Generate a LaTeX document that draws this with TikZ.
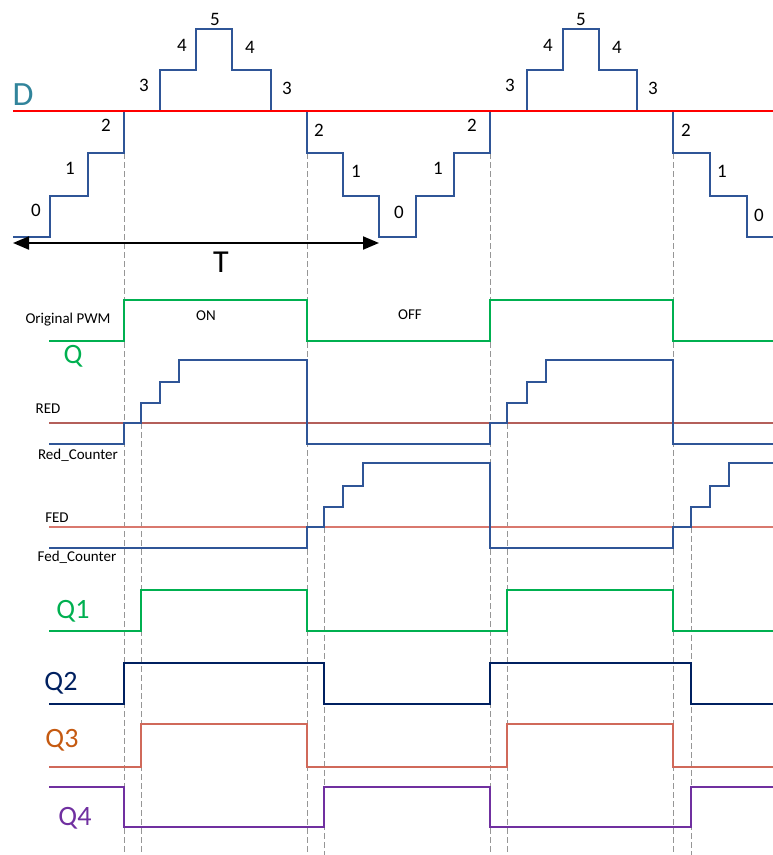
\documentclass[tikz,border=0pt]{standalone}
\usepackage{fontspec}
\setmainfont{Carlito}
\usetikzlibrary{arrows.meta,positioning}

\definecolor{stairblue}{RGB}{47,85,151}
\definecolor{dteal}{RGB}{49,132,155}
\definecolor{pwmgreen}{RGB}{0,176,80}
\definecolor{redline}{RGB}{180,95,90}
\definecolor{fedline}{RGB}{217,120,110}
\definecolor{navy}{RGB}{0,32,96}
\definecolor{qthree}{RGB}{208,105,90}
\definecolor{qthreetxt}{RGB}{197,90,17}
\definecolor{qpurple}{RGB}{112,48,160}
\definecolor{guide}{RGB}{150,150,150}

\begin{document}
\begin{tikzpicture}[x=1pt,y=-1pt,semithick]
	\tikzstyle{level}=[font=\fontsize{19}{22}\selectfont]
	\tikzstyle{small}=[font=\fontsize{15}{18}\selectfont]
	\tikzstyle{big}=[font=\fontsize{28}{32}\selectfont]
	\tikzstyle{wave}=[line width=1.3pt,line join=miter]
	\tikzstyle{guideline}=[guide,line width=1pt,dash pattern=on 6pt off 3pt]

	\useasboundingbox (0,0) rectangle (773,855);

	% dashed guides
	\foreach \x in {124,307,490,673}
		\draw[guideline] (\x,153) -- (\x,855);
	\foreach \x in {141,507}
		\draw[guideline] (\x,423) -- (\x,855);
	\foreach \x in {324,691}
		\draw[guideline] (\x,527) -- (\x,855);

	% counter staircase and D
	\draw[wave,stairblue] (13,237) -| (50,196) -| (88,153) -| (124,111) -| (160,70) -| (196,29)
		-| (232,70) -| (271,111) -| (307,153) -| (343,196) -| (379,237) -| (416,196) -| (454,153)
		-| (490,111) -| (527,70) -| (563,29) -| (599,70) -| (637,111) -| (673,153) -| (710,196)
		-| (747,237) -- (773,237);
	\draw[red,line width=2pt] (13,111) -- (773,111);
	\node[dteal,font=\fontsize{34}{38}\selectfont] (D) at (23,95) {D};

	\foreach \x/\y/\t [count=\i] in {36/210/0,70/168/1,106/125/2,144/85/3,182/45/4,215/19/5,
		250/47/4,287/88/3,319/130/2,356/171/1,399/212/0,438/168/1,472/125/2,510/85/3,548/45/4,
		581/19/5,617/47/4,653/88/3,686/130/2,722/171/1,759/215/0}
		\node[level] (lvl\i) at (\x,\y) {\t};

	% period
	\coordinate (Tl) at (13,243);
	\coordinate (Tr) at (379,243);
	\draw[{Triangle[length=16pt,width=13pt]}-{Triangle[length=16pt,width=13pt]},line width=2pt] (Tl) -- (Tr);
	\node[font=\fontsize{32}{36}\selectfont] (T) at (221,262) {T};

	% original PWM
	\draw[pwmgreen,line width=2.5pt] (49,341) -| (124,300) -| (307,341) -| (490,300) -| (673,341) -- (773,341);
	\node[small] (pwm) at (68,320) {Original PWM};
	\node[small] (on) at (206,316) {ON};
	\node[small] (off) at (410,315) {OFF};
	\node[big,pwmgreen] (Q) at (73,356) {Q};

	% dead band counters
	\draw[redline,line width=1.3pt] (49,423) -- (773,423);
	\draw[fedline,line width=1.3pt] (49,527) -- (773,527);
	\draw[wave,stairblue] (49,444) -| (124,423) -| (141,403) -| (160,382) -| (179,360) -| (307,444)
		-| (490,423) -| (507,403) -| (527,382) -| (546,360) -| (673,444) -- (773,444);
	\draw[wave,stairblue] (49,548) -| (307,527) -| (324,507) -| (343,486) -| (363,463) -| (490,548)
		-| (673,527) -| (691,507) -| (710,486) -| (729,463) -- (773,463);
	\node[small] (red) at (48,409) {RED};
	\node[small] (redc) at (78,455) {Red\_Counter};
	\node[small] (fed) at (57,518) {FED};
	\node[small] (fedc) at (77,557) {Fed\_Counter};

	% gate signals
	\draw[wave,pwmgreen] (49,631) -| (141,590) -| (307,631) -| (507,590) -| (673,631) -- (773,631);
	\draw[wave,navy,line width=1.6pt] (49,704) -| (124,663) -| (324,704) -| (490,663) -| (691,704) -- (773,704);
	\draw[wave,qthree] (49,767) -| (141,724) -| (307,767) -| (507,724) -| (673,767) -- (773,767);
	\draw[wave,qpurple] (49,787) -| (124,827) -| (324,787) -| (490,827) -| (691,787) -- (773,787);
	\node[big,pwmgreen] (Q1) at (73,611) {Q1};
	\node[big,navy] (Q2) at (61,683) {Q2};
	\node[big,qthreetxt] (Q3) at (62,740) {Q3};
	\node[big,qpurple] (Q4) at (75,818) {Q4};
\end{tikzpicture}
\end{document}
